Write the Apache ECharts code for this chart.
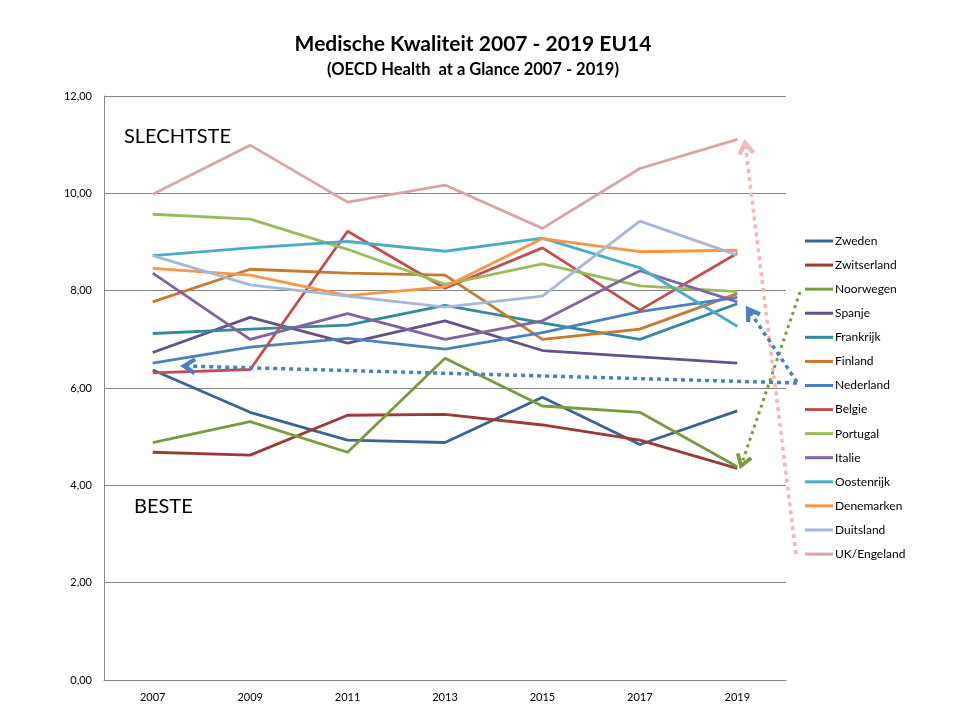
<!DOCTYPE html>
<html>
<head>
<meta charset="utf-8">
<script src="https://cdn.jsdelivr.net/npm/echarts@6/dist/echarts.min.js"></script>
<style>
html,body{margin:0;padding:0;background:#fff;}
#c{width:960px;height:720px;}
</style>
</head>
<body>
<div id="c"></div>
<script>
var years = ['2007','2009','2011','2013','2015','2017','2019'];
var Zweden      = [6.37, 5.50, 4.93, 4.88, 5.81, 4.84, 5.53];
var Zwitserland = [4.68, 4.62, 5.44, 5.46, 5.24, 4.93, 4.35];
var Noorwegen   = [4.88, 5.31, 4.68, 6.61, 5.63, 5.50, 4.38];
var Spanje      = [6.73, 7.45, 6.92, 7.38, 6.77, 6.64, 6.51];
var Frankrijk   = [7.12, 7.21, 7.29, 7.70, 7.34, 7.00, 7.73];
var Finland     = [7.77, 8.44, 8.36, 8.32, 7.00, 7.21, 7.94];
var Nederland   = [6.51, 6.84, 7.02, 6.80, 7.14, 7.57, 7.86];
var Belgie      = [6.31, 6.38, 9.22, 8.05, 8.88, 7.60, 8.77];
var Portugal    = [9.57, 9.47, 8.85, 8.13, 8.55, 8.10, 7.98];
var Italie      = [8.36, 7.00, 7.53, 7.00, 7.38, 8.41, 7.77];
var Oostenrijk  = [8.72, 8.88, 9.01, 8.81, 9.08, 8.47, 7.27];
var Denemarken  = [8.46, 8.32, 7.90, 8.08, 9.07, 8.80, 8.83];
var Duitsland   = [8.72, 8.12, 7.89, 7.66, 7.89, 9.43, 8.73];
var UKEngeland  = [9.98, 10.99, 9.82, 10.17, 9.28, 10.51, 11.11];

var seriesNames = ['Zweden','Zwitserland','Noorwegen','Spanje','Frankrijk','Finland','Nederland','Belgie','Portugal','Italie','Oostenrijk','Denemarken','Duitsland','UK/Engeland'];
var seriesData = [Zweden, Zwitserland, Noorwegen, Spanje, Frankrijk, Finland, Nederland, Belgie, Portugal, Italie, Oostenrijk, Denemarken, Duitsland, UKEngeland];
var colors = ['#3B6496','#9A3B38','#7A9A3E','#65508A','#318A9F','#C8782F','#4A80C0','#C0504D','#9BBB59','#8064A2','#4BACC6','#F79646','#A5B8D8','#D9A5A4'];

var FONT = 'Lato, "Open Sans", sans-serif';

var chart = echarts.init(document.getElementById('c'));

var series = seriesNames.map(function(n, i){
  return {
    name: n, type: 'line', data: seriesData[i],
    symbol: 'none', smooth: false,
    lineStyle: {width: 2.8, color: colors[i]},
    itemStyle: {color: colors[i]},
    z: 2
  };
});

// annotation arrows (decorative pixel overlay)
function arrow(sx, sy, tx, ty, color, width, dash){
  var ang = Math.atan2(ty - sy, tx - sx);
  var L = 13, a = Math.PI/5.5;
  var p1 = [tx - L*Math.cos(ang - a), ty - L*Math.sin(ang - a)];
  var p2 = [tx - L*Math.cos(ang + a), ty - L*Math.sin(ang + a)];
  var bx = tx - 4*Math.cos(ang), by = ty - 4*Math.sin(ang);
  return [
    {type:'line', z:50, shape:{x1:sx,y1:sy,x2:bx,y2:by}, style:{stroke:color, lineWidth:width, lineDash:dash, lineCap:'butt'}},
    {type:'polyline', z:50, shape:{points:[p1,[tx,ty],p2]}, style:{stroke:color, lineWidth:width+0.8, fill:null, lineJoin:'miter'}}
  ];
}
var graphics = [];
graphics = graphics.concat(arrow(796,554, 745,143, '#F2B8B8', 3.5, [4,4]));
graphics = graphics.concat(arrow(800,292, 741,466, '#7A9A3E', 3, [3,4]));
graphics = graphics.concat(arrow(797,382, 748,309, '#4A80C0', 3.5, [4,4]));
graphics = graphics.concat(arrow(797,383, 184,366, '#4A80C0', 3.5, [4,4]));

graphics.push({type:'text', z:60, style:{text:'Medische Kwaliteit 2007 - 2019 EU14', font:'bold 21px '+FONT, fill:'#000', x:473, y:34, textAlign:'center'}});
graphics.push({type:'text', z:60, style:{text:'(OECD Health  at a Glance 2007 - 2019)', font:'bold 16.5px '+FONT, fill:'#000', x:473, y:61, textAlign:'center'}});
graphics.push({type:'text', z:60, style:{text:'SLECHTSTE', font:'20px '+FONT, fill:'#000', x:124, y:127}});
graphics.push({type:'text', z:60, style:{text:'BESTE', font:'20px '+FONT, fill:'#000', x:134, y:497}});

chart.setOption({
  animation: false,
  backgroundColor: '#fff',
  color: colors,
  grid: {left:104, right:174, top:96, bottom:40, containLabel:false},
  legend: {
    orient: 'vertical', left: 800, top: 229,
    icon: 'rect',
    itemWidth: 28, itemHeight: 3, itemGap: 10.08,
    textStyle: {fontFamily: FONT, fontSize: 12, lineHeight: 14, color:'#000', padding:[0,0,0,-3]},
    data: seriesNames
  },
  xAxis: {
    type: 'category', data: years, boundaryGap: true,
    axisLine: {show:true, lineStyle:{color:'#868686', width:1}},
    axisTick: {show:false},
    axisLabel: {fontFamily: FONT, fontSize: 11, color:'#000', margin: 12}
  },
  yAxis: {
    type: 'value', min: 0, max: 12, interval: 2,
    axisLine: {show:true, lineStyle:{color:'#868686', width:1}},
    axisTick: {show:false},
    splitLine: {show:true, lineStyle:{color:'#868686', width:1}},
    axisLabel: {fontFamily: FONT, fontSize: 11, color:'#000', margin: 12,
      formatter: function(v){ return v.toFixed(2).replace('.', ','); }}
  },
  series: series,
  graphic: graphics
});
</script>
</body>
</html>
